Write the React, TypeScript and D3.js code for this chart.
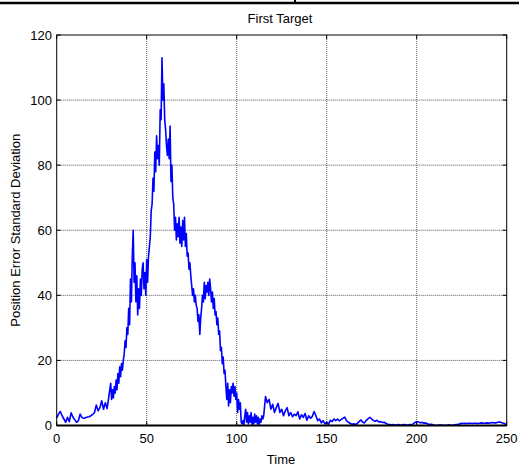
import React from "react";
import * as d3 from "d3";

const earlyValues = [
  2.3, 3.5, 4.3, 3.0, 2.0, 1.0, 2.5, 1.2, 3.9, 2.6,
  1.8, 1.0, 1.4, 3.5, 2.5, 2.2, 2.4, 2.6, 2.7, 3.0,
  3.4, 4.0, 6.3, 4.5, 5.5, 7.6, 5.0, 7.0, 5.2, 9.0,
];
const peakValues = [
  13, 8, 11, 8.5, 12, 10, 14, 11, 16, 13,
  18, 15, 19, 17, 20, 22, 26, 24, 30, 28,
  36, 31, 45, 38, 52, 60, 44, 50, 38, 46,
  34, 42, 36, 45, 40, 48, 50, 42, 47, 40,
  51, 44, 52, 55, 58, 66, 68, 76, 72, 84,
  78, 89, 82, 86, 80, 97, 94, 113, 100, 105,
  94, 91, 86, 83, 88, 82, 92, 75, 80, 70,
  68, 60, 64, 57, 62, 58, 64, 56, 61, 55,
  63, 57, 64, 55, 59, 52, 53, 48, 50, 46,
  43, 40, 42, 38, 40, 37, 36, 32, 34, 28,
  33, 36, 40, 38, 44, 39, 43, 41, 44, 40,
  45, 42, 38, 41, 36, 39, 34, 35, 31, 33,
  28, 29, 23, 24, 19, 21, 16, 17, 12, 8,
  13, 6, 11, 7, 12, 10, 13, 9, 12, 8,
  10, 4, 8, 5, 7, 1, 0.5, 1.5, 0.2, 3,
  5, 1, 4, 0.5, 3, 1, 4, 0.3, 2.5, 0.5,
  3.5, 1, 3, 0.5, 2.5, 0.2, 2, 1, 3, 2,
];
const tailValues = [
  3, 8.9, 7, 8, 5, 6.5, 4, 5.5, 6.8, 4,
  5, 3, 4.5, 5.5, 3, 4, 2.7, 3.5, 3, 4.2,
  2, 3.3, 2.5, 3.7, 1.6, 3, 2.2, 2.8, 4.3, 3,
  1.5, 2, 0.8, 1.5, 0.5, 1, 0.4, 1.6, 1.2, 2,
  1.5, 2, 1.4, 1.8, 2.2, 2.6, 1.5, 1, 0.7, 0.4,
  0.5, 0.3, 0.6, 1.2, 1.7, 1, 0.8, 1.6, 2.1, 2.5,
  2, 1.5, 1.3, 1.6, 1.1, 1.2, 0.9, 1, 0.6, 0.4,
  0.3, 0.2, 0.3, 0.1, 0.2, 0.3, 0.1, 0.2, 0.3, 0.2,
  0.1, 0.3, 0.2, 0.5, 0.9, 1.2, 1.1, 0.8, 1, 0.7,
  0.8, 0.5, 0.3, 0.4, 0.2, 0.1, 0.1, 0.1, 0.2, 0.1,
  0.1, 0.1, 0.1, 0.2, 0.1, 0.1, 0.2, 0.3, 0.3, 0.5,
  0.7, 0.6, 0.7, 0.6, 0.7, 0.7, 0.6, 0.7, 0.7, 0.6,
  0.7, 0.8, 0.7, 0.7, 0.8, 0.7, 0.8, 0.9, 0.8, 0.8,
  1, 1.1, 0.9, 0.7, 0.5, 0.4,
];
const xTicks = [0, 50, 100, 150, 200, 250];
const yTicks = [0, 20, 40, 60, 80, 100, 120];
const titleText = "First Target";
const xLabel = "Time";
const yLabel = "Position Error Standard Deviation";

type Pt = { t: number; v: number };
const points: Pt[] = [
  ...earlyValues.map((v, i) => ({ t: i, v })),
  ...peakValues.map((v, i) => ({ t: 30 + i * 0.5, v })),
  ...tailValues.map((v, i) => ({ t: 115 + i, v })),
];

const W = 519;
const H = 466;
const left = 56.7;
const right = 506.7;
const top = 35;
const bottom = 425.5;
const font = "Arial, 'Liberation Sans', Helvetica, sans-serif";

export default function App() {
  const x = d3.scaleLinear().domain([0, 250]).range([left, right]);
  const y = d3.scaleLinear().domain([0, 120]).range([bottom, top]);
  const line = d3
    .line<Pt>()
    .x((d) => x(d.t))
    .y((d) => y(d.v));
  const tickLen = 4;
  return (
    <svg
      width={W}
      height={H}
      style={{ position: "absolute", left: 0, top: 0, background: "#fff" }}
    >
      <rect x={0} y={0} width={W} height={H} fill="#fff" />
      {/* top page decoration */}
      <line x1={0} x2={W} y1={3} y2={3} stroke="#000" strokeWidth={2.5} />
      <line x1={295} x2={295} y1={0} y2={3} stroke="#000" strokeWidth={2} />
      {/* grid */}
      {xTicks
        .filter((t) => t > 0 && t < 250)
        .map((t) => (
          <line
            key={"gx" + t}
            x1={x(t)}
            x2={x(t)}
            y1={top}
            y2={bottom}
            stroke="#555"
            strokeWidth={1}
            strokeDasharray="1,1"
          />
        ))}
      {yTicks
        .filter((t) => t > 0 && t < 120)
        .map((t) => (
          <line
            key={"gy" + t}
            x1={left}
            x2={right}
            y1={y(t)}
            y2={y(t)}
            stroke="#555"
            strokeWidth={1}
            strokeDasharray="1,1"
          />
        ))}
      {/* data */}
      <path d={line(points) || ""} fill="none" stroke="#0000ff" strokeWidth={1.6} strokeLinejoin="round" />
      {/* frame */}
      <rect x={left} y={top} width={right - left} height={bottom - top} fill="none" stroke="#000" strokeWidth={1} />
      <line x1={left} x2={right} y1={bottom} y2={bottom} stroke="#000" strokeWidth={2} />
      {/* ticks */}
      {xTicks.map((t) => (
        <g key={"tx" + t}>
          <line x1={x(t)} x2={x(t)} y1={bottom} y2={bottom - tickLen} stroke="#000" />
          <line x1={x(t)} x2={x(t)} y1={top} y2={top + tickLen} stroke="#000" />
          <text x={x(t)} y={443} textAnchor="middle" fontFamily={font} fontSize={13} fill="#000">
            {t}
          </text>
        </g>
      ))}
      {yTicks.map((t) => (
        <g key={"ty" + t}>
          <line x1={left} x2={left + tickLen} y1={y(t)} y2={y(t)} stroke="#000" />
          <line x1={right} x2={right - tickLen} y1={y(t)} y2={y(t)} stroke="#000" />
          <text x={52} y={y(t) + 4.5} textAnchor="end" fontFamily={font} fontSize={13} fill="#000">
            {t}
          </text>
        </g>
      ))}
      <text x={280} y={23} textAnchor="middle" fontFamily={font} fontSize={13} fill="#000">
        {titleText}
      </text>
      <text x={281} y={464} textAnchor="middle" fontFamily={font} fontSize={13} fill="#000">
        {xLabel}
      </text>
      <text
        transform={`translate(20, ${(top + bottom) / 2}) rotate(-90)`}
        textAnchor="middle"
        fontFamily={font}
        fontSize={13}
        fill="#000"
      >
        {yLabel}
      </text>
    </svg>
  );
}
